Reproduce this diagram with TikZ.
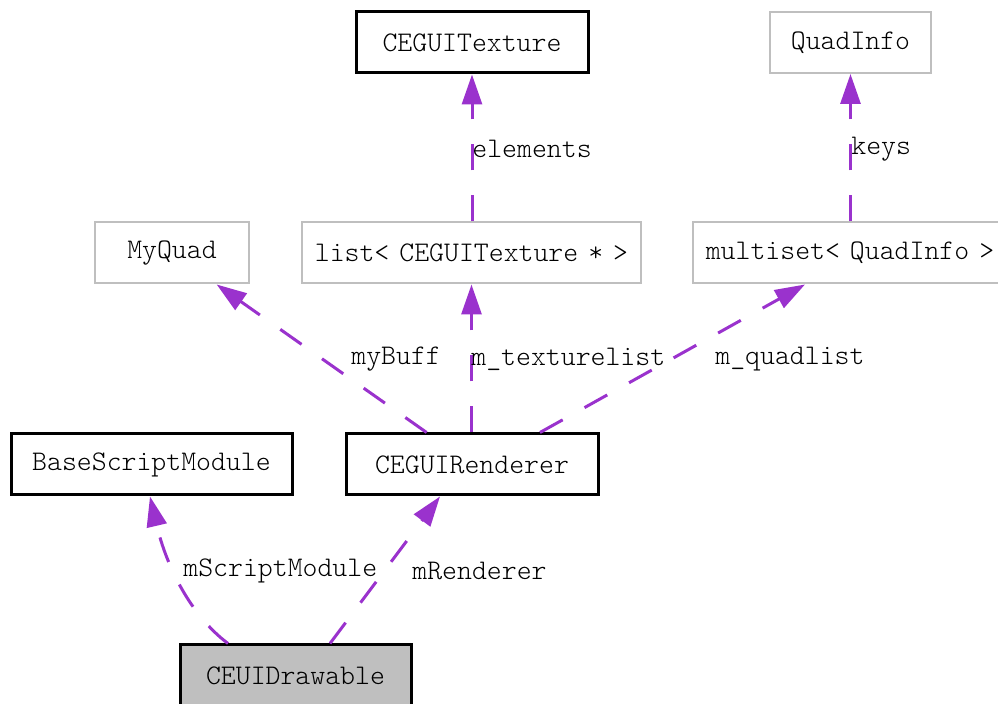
\documentclass[tikz,border=0pt]{standalone}
\usepackage{tikz}
\usetikzlibrary{positioning, arrows.meta}
\definecolor{relcolor}{HTML}{9A32CD}
\definecolor{grisborde}{HTML}{BFBFBF}
\newcommand{\esp}{\hspace{5pt}}

\begin{document}
\begin{tikzpicture}[x=0.5pt, y=-0.5pt,
	every node/.style={font=\ttfamily\fontseries{l}\fontsize{14.2pt}{17pt}\selectfont, inner sep=0pt},
	clase/.style={draw=black, line width=1.5pt, minimum height=30.5pt},
	externa/.style={draw=grisborde, line width=1pt, minimum height=30.5pt},
	raiz/.style={clase, fill=grisborde},
	rel/.style={draw=relcolor, line width=1.5pt, dash pattern=on 13pt off 12.5pt, -{Triangle[length=15pt,width=10pt]}},
	etiqueta/.style={anchor=west}]
	
	\useasboundingbox (0,0) rectangle (998,704);
	
	% Nodos de arriba
	\node[clase, minimum width=116pt] (Texture) at (472,42.5) {CEGUITexture};
	\node[externa, minimum width=80.5pt] (QuadInfo) at (850.5,42.5) {QuadInfo};
	
	% Contenedores
	\node[externa, minimum width=77pt] (MyQuad) at (172,253) {MyQuad};
	\node[externa, minimum width=169.5pt] (TextureList) at (471.5,253) {list<\esp CEGUITexture\esp *\esp >};
	\node[externa, minimum width=157pt] (Multiset) at (850,253) {multiset<\esp QuadInfo\esp >};
	
	% Clases
	\node[clase, minimum width=140.5pt] (Script) at (151.5,464.5) {BaseScriptModule};
	\node[clase, minimum width=126pt] (Renderer) at (472,464.5) {CEGUIRenderer};
	
	% Nodo raiz
	\node[raiz, minimum width=115.5pt] (Drawable) at (295.5,675.5) {CEUIDrawable};
	
	% Relaciones
	\draw[rel] (TextureList.north -| Texture.south) to (Texture.south);
	\draw[rel] (Multiset.north -| QuadInfo.south) to (QuadInfo.south);
	\draw[rel] (Renderer) to (MyQuad);
	\draw[rel] (Renderer.north -| TextureList.south) to (TextureList.south);
	\draw[rel] ([xshift=34pt]Renderer.north) to ([xshift=-22.5pt]Multiset.south);
	\draw[rel] ([xshift=-33.75pt]Drawable.north) .. controls (190,615) and (166,565) .. ([xshift=-0.75pt]Script.south);
	\draw[rel] ([xshift=17.25pt]Drawable.north) to ([xshift=-16pt]Renderer.south);
	
	% Etiquetas
	\node[etiqueta] (lElements) at (472,149) {elements};
	\node[etiqueta] (lKeys) at (851,149) {keys};
	\node[etiqueta] (lMyBuff) at (351,359) {myBuff};
	\node[etiqueta] (lTextureList) at (471,359) {m\_texturelist};
	\node[etiqueta] (lQuadList) at (715,359) {m\_quadlist};
	\node[etiqueta] (lScript) at (183,571) {mScriptModule};
	\node[etiqueta] (lRenderer) at (412,571) {mRenderer};
	
\end{tikzpicture}
\end{document}
